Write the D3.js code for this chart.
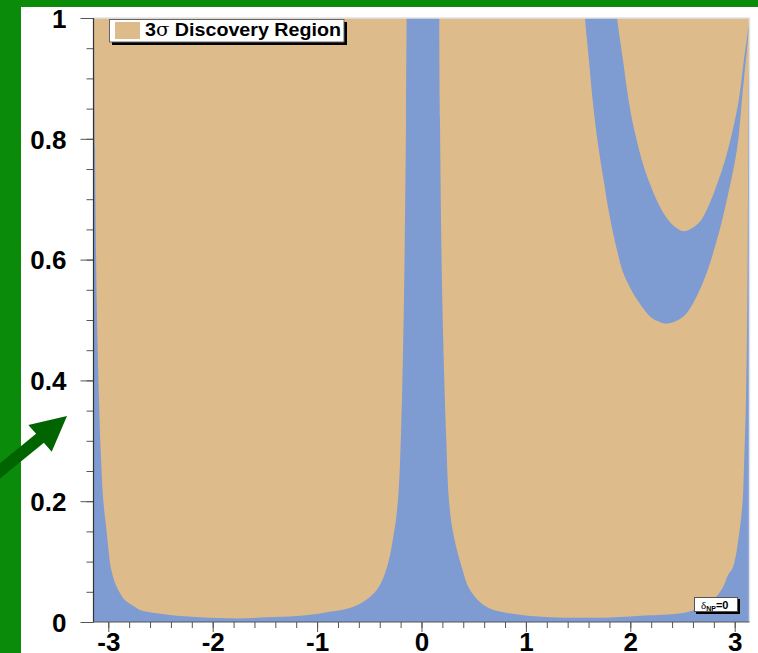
<!DOCTYPE html>
<html>
<head>
<meta charset="utf-8">
<script src="https://cdn.jsdelivr.net/npm/d3@7"></script>
<style>
  html, body { margin: 0; padding: 0; background: #fff; }
  svg { display: block; }
  .ax text { font-family: "Liberation Sans", Arial, sans-serif; font-weight: bold; fill: #000; }
  .ax line { stroke: #555; }
  .ax path { display: none; }
</style>
</head>
<body>
<div id="chart"></div>
<script>
// 3σ discovery region — boundaries (x = phase, y = fraction)

// left tan region: left edge (top→bottom), bottom edge, then middle strip left edge (bottom→top)
const leftRegion = [
  [-3.137, 1.0], [-3.127, 0.783], [-3.111, 0.534], [-3.089, 0.368], [-3.073, 0.285],
  [-3.048, 0.202], [-3.015, 0.148], [-2.998, 0.119], [-2.977, 0.091], [-2.936, 0.065],
  [-2.888, 0.048], [-2.840, 0.036], [-2.773, 0.028], [-2.697, 0.020], [-2.553, 0.015],
  [-2.409, 0.0116], [-2.122, 0.008], [-1.739, 0.006], [-1.480, 0.008], [-1.193, 0.010],
  [-0.943, 0.015], [-0.686, 0.023], [-0.542, 0.035], [-0.417, 0.056], [-0.330, 0.091],
  [-0.263, 0.148], [-0.225, 0.202], [-0.196, 0.313], [-0.168, 0.534], [-0.148, 0.833],
  [-0.142, 1.0]
];

// right tan region below the U band: middle strip right edge, bottom, right edge, then outer U curve
const rightRegion = [
  [0.170, 1.0], [0.177, 0.833], [0.199, 0.534], [0.235, 0.313], [0.263, 0.202],
  [0.302, 0.148], [0.385, 0.091], [0.465, 0.053], [0.625, 0.025], [0.943, 0.012],
  [1.231, 0.008], [1.518, 0.007], [1.806, 0.0075], [2.189, 0.011], [2.505, 0.015],
  [2.668, 0.023], [2.792, 0.036], [2.888, 0.058], [2.936, 0.078], [2.984, 0.091],
  [3.044, 0.148], [3.077, 0.202], [3.089, 0.257], [3.108, 0.368], [3.121, 0.534],
  [3.127, 0.700], [3.132, 0.866], [3.139, 0.982],
  [3.118, 0.949], [3.070, 0.866], [3.022, 0.783], [2.926, 0.700], [2.830, 0.633],
  [2.696, 0.562], [2.543, 0.512], [2.447, 0.499], [2.352, 0.494], [2.266, 0.498],
  [2.189, 0.506], [2.064, 0.534], [1.997, 0.554], [1.930, 0.579], [1.882, 0.609],
  [1.834, 0.645], [1.786, 0.687], [1.748, 0.728], [1.705, 0.774], [1.671, 0.816],
  [1.638, 0.866], [1.609, 0.920], [1.585, 0.965], [1.566, 1.0]
];

// tan region inside the U band (above the inner curve)
const innerRegion = [
  [1.873, 1.0], [1.901, 0.965], [1.935, 0.924], [1.968, 0.882], [2.006, 0.841],
  [2.054, 0.803], [2.122, 0.758], [2.189, 0.725], [2.256, 0.697], [2.333, 0.673],
  [2.409, 0.657], [2.505, 0.647], [2.591, 0.652], [2.668, 0.663], [2.745, 0.687],
  [2.821, 0.720], [2.926, 0.776], [3.032, 0.857], [3.089, 0.932], [3.127, 0.978],
  [3.147, 1.0]
];

const xMajor = [-3, -2, -1, 0, 1, 2, 3];
const xMinor = d3.range(-30, 32, 2).map(d => d / 10);
const yMajor = [0, 0.2, 0.4, 0.6, 0.8, 1];
const yMinor = d3.range(0, 21).map(d => d * 0.05);

const TAN = "#debb8a";
const BLUE = "#7e9bd2";
const W = 758, H = 653;

const svg = d3.select("#chart").append("svg")
  .attr("width", W).attr("height", H);

// green slide decoration
svg.append("rect").attr("x", 0).attr("y", 0).attr("width", W).attr("height", 7).attr("fill", "#0a8c0a");
svg.append("rect").attr("x", 0).attr("y", 0).attr("width", 21).attr("height", H).attr("fill", "#0a8c0a");

const x = d3.scaleLinear().domain([-Math.PI, Math.PI]).range([93.5, 749.5]);
const y = d3.scaleLinear().domain([0, 1]).range([622, 18]);

svg.append("clipPath").attr("id", "plotclip").append("rect")
  .attr("x", x(-Math.PI)).attr("y", y(1))
  .attr("width", x(Math.PI) - x(-Math.PI)).attr("height", y(0) - y(1));

const plot = svg.append("g").attr("clip-path", "url(#plotclip)");

// blue background = outside discovery region
plot.append("rect")
  .attr("x", x(-Math.PI)).attr("y", y(1))
  .attr("width", x(Math.PI) - x(-Math.PI)).attr("height", y(0) - y(1))
  .attr("fill", BLUE);

const line = d3.line().x(d => x(d[0])).y(d => y(d[1])).curve(d3.curveCatmullRom.alpha(0.5));
[leftRegion, rightRegion, innerRegion].forEach(r => {
  plot.append("path").attr("d", line(r) + "Z").attr("fill", TAN);
});

// faint frame top/right
svg.append("path")
  .attr("d", `M${x(-Math.PI)},${y(1)}H${x(Math.PI)}V${y(0)}`)
  .attr("fill", "none").attr("stroke", "#e2e2e2").attr("stroke-width", 1.5);

// axes
const fmtY = d => d === 0 ? "0" : d === 1 ? "1" : d.toFixed(1);
const fmtX = d => d < 0 ? "-" + (-d) : String(d);

svg.append("g").attr("class", "ax")
  .attr("transform", `translate(${x(-Math.PI)},0)`)
  .call(d3.axisLeft(y).tickValues(yMinor).tickSize(7).tickFormat(""));
const gy = svg.append("g").attr("class", "ax")
  .attr("transform", `translate(${x(-Math.PI)},0)`)
  .call(d3.axisLeft(y).tickValues(yMajor).tickSize(13).tickPadding(14).tickFormat(fmtY));
gy.selectAll("text").style("font-size", "26px").attr("dy", "0.36em");

svg.append("g").attr("class", "ax")
  .attr("transform", `translate(0,${y(0)})`)
  .call(d3.axisBottom(x).tickValues(xMinor).tickSize(6).tickFormat(""));
const gx = svg.append("g").attr("class", "ax")
  .attr("transform", `translate(0,${y(0)})`)
  .call(d3.axisBottom(x).tickValues(xMajor).tickSize(10).tickPadding(1).tickFormat(fmtX));
gx.selectAll("text").style("font-size", "26px");

// axis lines
svg.append("line").attr("x1", x(-Math.PI)).attr("x2", x(-Math.PI)).attr("y1", y(1)).attr("y2", y(0))
  .attr("stroke", "#333").attr("stroke-width", 1.2);
svg.append("line").attr("x1", x(-Math.PI)).attr("x2", x(Math.PI)).attr("y1", y(0)).attr("y2", y(0))
  .attr("stroke", "#555").attr("stroke-width", 1.2);

// legend
const lg = svg.append("g");
lg.append("rect").attr("x", 112).attr("y", 22).attr("width", 235).attr("height", 23).attr("fill", "#000");
lg.append("rect").attr("x", 109.5).attr("y", 19.5).attr("width", 234.5).attr("height", 22.5)
  .attr("fill", "#fff").attr("stroke", "#666").attr("stroke-width", 1);
lg.append("rect").attr("x", 115).attr("y", 22).attr("width", 25).attr("height", 17).attr("fill", TAN);
const lt = lg.append("text").attr("x", 145).attr("y", 36)
  .attr("textLength", 196).attr("lengthAdjust", "spacingAndGlyphs")
  .style("font-family", "'Liberation Sans', Arial, sans-serif").style("font-weight", "bold").style("font-size", "18px");
lt.append("tspan").text("3");
lt.append("tspan").style("font-family", "'DejaVu Serif', serif").style("font-weight", "normal").text("σ");
lt.append("tspan").text(" Discovery Region");

// delta label
const dg = svg.append("g");
dg.append("rect").attr("x", 696).attr("y", 599).attr("width", 44).attr("height", 15).attr("fill", "#000");
dg.append("rect").attr("x", 694.5).attr("y", 597.5).attr("width", 43).attr("height", 14)
  .attr("fill", "#fff").attr("stroke", "#555").attr("stroke-width", 1);
const dt = dg.append("text").attr("x", 701).attr("y", 608.5)
  .style("font-family", "'Liberation Sans', Arial, sans-serif").style("font-size", "11px");
dt.append("tspan").style("font-family", "'Liberation Serif', serif").text("δ");
dt.append("tspan").attr("dy", 2).style("font-size", "7px").style("font-weight", "bold").text("NP");
dt.append("tspan").attr("dy", -2).style("font-weight", "bold").text("=0");

// green arrow
svg.append("polygon")
  .attr("points", [[67, 416], [28.3, 425], [36.1, 433.8], [-28.4, 486.2], [-20.5, 495.2], [43.9, 442.8], [51.7, 451.7]].join(" "))
  .attr("fill", "#006400");
</script>
</body>
</html>
